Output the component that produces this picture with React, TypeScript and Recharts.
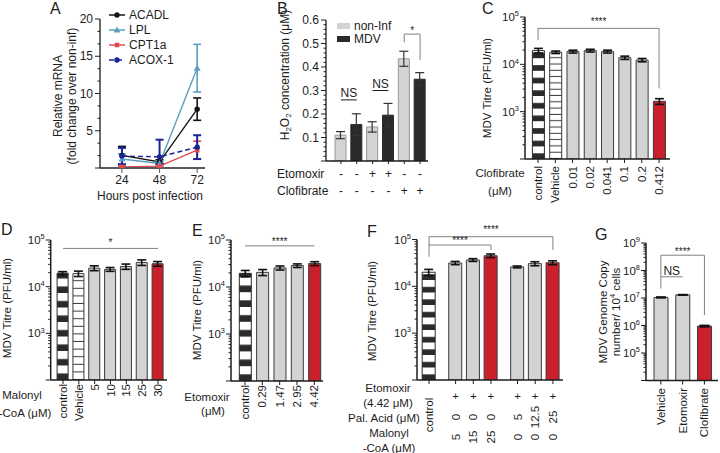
import React from 'react';
import {
  Bar,
  BarChart,
  Cell,
  ErrorBar,
  Legend,
  Line,
  LineChart,
  ReferenceLine,
  XAxis,
  YAxis,
} from 'recharts';

const W = 720;
const H = 453;
const Y_W = 40;
const X_H = 30;
const FONT = '"Liberation Sans", Arial, Helvetica, sans-serif';
const INK = '#1d1d1d';
const AXIS = '#1d1d1d';
const GRAY = '#d3d3d3';
const DARK = '#2a2a2a';
const RED = '#c9202b';
const EDGE = '#3b3b3b';
const BRACKET = '#808080';

// A: relative mRNA (fold change over non-inf)
const hours = [24, 48, 72];
const acadl = [1.7, 0.8, 7.9];
const acadlErr = [1.2, 0.3, 1.5];
const lpl = [1.2, 0.6, 13.4];
const lplErr = [0.7, 0.3, 3.2];
const cpt1a = [0.15, 0.25, 2.4];
const cpt1aErr = [0.1, 0.15, 1.2];
const acox1 = [1.6, 1.5, 2.8];
const acox1ErrLow = [1.1, 0.9, 1.6];
const acox1ErrHigh = [1.1, 2.3, 1.6];
const aTickLabels = [5, 10, 15, 20];

// B: H2O2 concentration
const bGroupNames = ['non-Inf', 'MDV'];
const bGroup = [0, 1, 0, 1, 0, 1];
const bConc = [0.11, 0.155, 0.145, 0.195, 0.435, 0.348];
const bErr = [0.015, 0.046, 0.022, 0.05, 0.032, 0.028];
const bEtomoxir = ['-', '-', '+', '+', '-', '-'];
const bClofibrate = ['-', '-', '-', '-', '+', '+'];
const bTickLabels = [0.1, 0.2, 0.3, 0.4, 0.5, 0.6];

// C: clofibrate titres
const cLabels = ['control', 'Vehicle', '0.01', '0.02', '0.041', '0.1', '0.2', '0.412'];
const cKind = ['control', 'vehicle', 'drug', 'drug', 'drug', 'drug', 'drug', 'hit'];
const cTitre = [19500, 18000, 18600, 19500, 18600, 13800, 12300, 1650];
const cErr = [2200, 1100, 1300, 1300, 1300, 1100, 1000, 230];

// D: malonyl-CoA titres
const dLabels = ['control', 'Vehicle', '5', '10', '15', '25', '30'];
const dKind = ['control', 'vehicle', 'drug', 'drug', 'drug', 'drug', 'hit'];
const dTitre = [19500, 19000, 25000, 23500, 27000, 33000, 31000];
const dErr = [1500, 2500, 3000, 2200, 3500, 4500, 3500];

// E: etomoxir titres
const eLabels = ['control', '0.29', '1.47', '2.95', '4.42'];
const eKind = ['control', 'drug', 'drug', 'drug', 'hit'];
const eTitre = [19500, 20500, 25500, 28500, 31500];
const eErr = [3000, 3000, 2500, 2500, 3000];

// F: etomoxir + palmitic acid / malonyl-CoA
const fGroup = [0, 1, 1, 1, 2, 2, 2];
const fKind = ['control', 'drug', 'drug', 'hit', 'drug', 'drug', 'hit'];
const fEtomoxir = ['', '+', '+', '+', '+', '+', '+'];
const fPalAcid = ['', '0', '0', '0', '5', '12.5', '25'];
const fMalonyl = ['', '5', '15', '25', '0', '0', '0'];
const fTitre = [20000, 31500, 36500, 45000, 26000, 30500, 32000];
const fErr = [3000, 2500, 2500, 4000, 1200, 3000, 3000];

// G: genome copies
const gLabels = ['Vehicle', 'Etomoxir', 'Clofibrate'];
const gKind = ['drug', 'drug', 'hit'];
const gCopies = [1.05e7, 1.3e7, 9.5e5];
const gErr = [4e5, 3e5, 6e4];

const LAYER: React.CSSProperties = { position: 'absolute', left: 0, top: 0 };

const frame = (x0: number, x1: number, y0: number, y1: number) => ({
  top: y0,
  right: W - x1,
  bottom: H - y1 - X_H,
  left: x0 - Y_W,
});

type Row = { key: string; kind: string; value: number; err: number };

const rowsOf = (labels: string[], kinds: string[], values: number[], errs: number[]): Row[] =>
  labels.map((label, i) => ({ key: label, kind: kinds[i], value: values[i], err: errs[i] }));

function logTicks(lo: number, hi: number) {
  const out: number[] = [];
  for (let e = Math.floor(Math.log10(lo)); e < Math.round(Math.log10(hi)); e++) {
    for (let m = 1; m < 10; m++) {
      const v = m * 10 ** e;
      if (v >= lo && v < hi) out.push(v);
    }
  }
  out.push(hi);
  return out;
}

const fillOf = (kind: string, id: string) => {
  if (kind === 'control') return `url(#stripe-${id})`;
  if (kind === 'vehicle') return `url(#lines-${id})`;
  if (kind === 'hit') return RED;
  return GRAY;
};

const starLabel = (value: string, offset: number, fontSize = 10) => ({
  value,
  position: 'top' as const,
  offset,
  fontSize,
  fill: INK,
  stroke: 'none',
});

function LogTick(props: any) {
  const { x, y, payload, min, fontSize = 11.5 } = props;
  const v = payload.value as number;
  const e = Math.round(Math.log10(v));
  const major = Math.abs(Math.log10(v) - e) < 1e-6;
  return (
    <g>
      <line x1={x} x2={x - (major ? 5 : 2.5)} y1={y} y2={y} stroke={AXIS} strokeWidth={1} />
      {major && v > min && (
        <text x={x - 6} y={y} dy="0.35em" textAnchor="end" fontSize={fontSize} fill={INK}>
          10
          <tspan dy={-fontSize * 0.42} fontSize={fontSize * 0.65}>
            {e}
          </tspan>
        </text>
      )}
    </g>
  );
}

function LinTick(props: any) {
  const { x, y, payload, labels, step, digits = 0, fontSize = 12 } = props;
  const v = payload.value as number;
  const major = Math.abs(v / step - Math.round(v / step)) < 1e-6;
  const shown = labels.find((l: number) => Math.abs(l - v) < 1e-6);
  return (
    <g>
      <line x1={x} x2={x - (major ? 5 : 2.5)} y1={y} y2={y} stroke={AXIS} strokeWidth={1} />
      {shown !== undefined && (
        <text x={x - 7} y={y} dy="0.35em" textAnchor="end" fontSize={fontSize} fill={INK}>
          {shown.toFixed(digits)}
        </text>
      )}
    </g>
  );
}

function RotTick(props: any) {
  const { x, y, payload, fontSize = 11.5 } = props;
  return (
    <text
      x={x}
      y={y}
      transform={`rotate(-90 ${x} ${y})`}
      textAnchor="end"
      dy="0.35em"
      fontSize={fontSize}
      fill={INK}
    >
      {payload.value}
    </text>
  );
}

function bracket(
  id: string,
  a: string | number,
  b: string | number,
  top: number,
  aLow: number,
  bLow: number,
  text: string,
  offset: number,
  color = BRACKET,
) {
  const common = { stroke: color, strokeWidth: 1, ifOverflow: 'visible' as const };
  return [
    <ReferenceLine key={`${id}-l`} segment={[{ x: a, y: aLow }, { x: a, y: top }]} {...common} />,
    <ReferenceLine
      key={`${id}-t`}
      segment={[{ x: a, y: top }, { x: b, y: top }]}
      {...common}
      label={starLabel(text, offset)}
    />,
    <ReferenceLine key={`${id}-r`} segment={[{ x: b, y: top }, { x: b, y: bLow }]} {...common} />,
  ];
}

function Marker({ cx, cy, shape, color }: { cx: number; cy: number; shape: string; color: string }) {
  if (shape === 'triangle') {
    return <path d={`M${cx},${cy - 3.5}L${cx + 3.5},${cy + 2.5}L${cx - 3.5},${cy + 2.5}Z`} fill={color} />;
  }
  if (shape === 'square') return <rect x={cx - 2.3} y={cy - 2.3} width={4.6} height={4.6} fill={color} />;
  return <circle cx={cx} cy={cy} r={2.7} fill={color} />;
}

const aSeries = [
  { key: 'acadl', name: 'ACADL', color: '#141414', marker: 'circle', dash: undefined as string | undefined, bar: 1.6 },
  { key: 'lpl', name: 'LPL', color: '#5d9fc0', marker: 'triangle', dash: undefined, bar: 1.6 },
  { key: 'cpt1a', name: 'CPT1a', color: '#e24a4f', marker: 'square', dash: undefined, bar: 1.6 },
  { key: 'acox1', name: 'ACOX-1', color: '#1b2496', marker: 'circle', dash: '5 3', bar: 2 },
];

function LegendA() {
  return (
    <div style={{ fontSize: 12, color: INK, fontFamily: FONT }}>
      {aSeries.map((s) => (
        <div key={s.key} style={{ display: 'flex', alignItems: 'center', height: 15 }}>
          <svg width={18} height={10} style={{ marginRight: 3 }}>
            <line x1={1} x2={17} y1={5} y2={5} stroke={s.color} strokeWidth={1.5} strokeDasharray={s.dash} />
            <Marker cx={9} cy={5} shape={s.marker} color={s.color} />
          </svg>
          <span>{s.name}</span>
        </div>
      ))}
    </div>
  );
}

function PanelA() {
  const rows = hours.map((h, i) => ({
    h,
    acadl: acadl[i],
    acadlErr: acadlErr[i],
    lpl: lpl[i],
    lplErr: lplErr[i],
    cpt1a: cpt1a[i],
    cpt1aErr: cpt1aErr[i],
    acox1: acox1[i],
    acox1Err: [acox1ErrLow[i], acox1ErrHigh[i]],
  }));
  const ticks = Array.from({ length: 13 }, (_, i) => (i * 5) / 3);
  return (
    <div style={LAYER}>
      <LineChart width={W} height={H} data={rows} margin={frame(100, 205, 19, 168)}>
        <XAxis
          dataKey="h"
          type="number"
          domain={[10, 77]}
          ticks={hours}
          allowDataOverflow
          height={X_H}
          axisLine={{ stroke: '#5a5a5a', strokeWidth: 2 }}
          tickLine={{ stroke: '#5a5a5a' }}
          tickSize={5}
          tickMargin={2}
          tick={{ fontSize: 12, fill: INK }}
        />
        <YAxis
          domain={[0, 20]}
          ticks={ticks}
          interval={0}
          allowDataOverflow
          width={Y_W}
          axisLine={{ stroke: AXIS, strokeWidth: 1.3 }}
          tickLine={false}
          tickSize={0}
          tickMargin={0}
          tick={<LinTick labels={aTickLabels} step={5} />}
        />
        <Legend
          layout="vertical"
          align="center"
          verticalAlign="middle"
          wrapperStyle={{ left: 108, top: 7, width: 90, height: 60 }}
          content={() => <LegendA />}
        />
        {aSeries.map((s) => (
          <Line
            key={s.key}
            dataKey={s.key}
            stroke={s.color}
            strokeWidth={1.4}
            strokeDasharray={s.dash}
            isAnimationActive={false}
            dot={(p: any) => <Marker key={`${s.key}-${p.index}`} cx={p.cx} cy={p.cy} shape={s.marker} color={s.color} />}
          >
            <ErrorBar dataKey={`${s.key}Err`} width={4} stroke={s.color} strokeWidth={s.bar} />
          </Line>
        ))}
      </LineChart>
    </div>
  );
}

function LegendB() {
  return (
    <div style={{ fontSize: 12, color: INK, fontFamily: FONT }}>
      {bGroupNames.map((name, i) => (
        <div key={name} style={{ display: 'flex', alignItems: 'center', height: 13 }}>
          <span
            style={{ width: 13, height: 6, background: i === 0 ? GRAY : DARK, marginRight: 4, display: 'inline-block' }}
          />
          <span>{name}</span>
        </div>
      ))}
    </div>
  );
}

function SignTick(props: any) {
  const { x, y, index } = props;
  return (
    <g fontSize={12} fill={INK}>
      <text x={x} y={y + 10} textAnchor="middle" dy="0.35em">
        {bEtomoxir[index]}
      </text>
      <text x={x} y={y + 27} textAnchor="middle" dy="0.35em">
        {bClofibrate[index]}
      </text>
    </g>
  );
}

function PanelB() {
  const rows = bConc.map((v, i) => ({ key: `b${i}`, value: v, err: bErr[i], group: bGroup[i] }));
  const ticks = Array.from({ length: 31 }, (_, i) => i * 0.02);
  return (
    <div style={LAYER}>
      <BarChart width={W} height={H} data={rows} margin={frame(326, 428, 20, 161)}>
        <XAxis
          dataKey="key"
          height={X_H}
          padding={{ left: 7, right: 0 }}
          interval={0}
          axisLine={{ stroke: AXIS, strokeWidth: 1.3 }}
          tickLine={{ stroke: AXIS }}
          tickSize={3}
          tickMargin={0}
          tick={<SignTick />}
        />
        <YAxis
          domain={[0, 0.6]}
          ticks={ticks}
          interval={0}
          allowDataOverflow
          width={Y_W}
          axisLine={{ stroke: AXIS, strokeWidth: 1.3 }}
          tickLine={false}
          tickSize={0}
          tickMargin={0}
          tick={<LinTick labels={bTickLabels} step={0.1} digits={1} />}
        />
        <Legend
          layout="vertical"
          align="center"
          verticalAlign="middle"
          wrapperStyle={{ left: 337, top: 19.5, width: 70, height: 26 }}
          content={() => <LegendB />}
        />
        <Bar dataKey="value" barSize={11} isAnimationActive={false} strokeWidth={1}>
          {rows.map((r) => (
            <Cell key={r.key} fill={r.group === 0 ? GRAY : DARK} stroke={r.group === 0 ? '#9a9a9a' : DARK} />
          ))}
          <ErrorBar dataKey="err" width={4.5} stroke="#333" strokeWidth={1.2} />
        </Bar>
        <ReferenceLine
          segment={[{ x: 'b0', y: 0.26 }, { x: 'b1', y: 0.26 }]}
          stroke={INK}
          ifOverflow="visible"
          label={starLabel('NS', 3, 12)}
        />
        <ReferenceLine
          segment={[{ x: 'b2', y: 0.3 }, { x: 'b3', y: 0.3 }]}
          stroke={INK}
          ifOverflow="visible"
          label={starLabel('NS', 3, 12)}
        />
        {bracket('b-star', 'b4', 'b5', 0.54, 0.505, 0.43, '*', 0)}
      </BarChart>
    </div>
  );
}

interface LogPanelProps {
  id: string;
  rows: Row[];
  x0: number;
  x1: number;
  y0: number;
  y1: number;
  padL: number;
  padR: number;
  domain: [number, number];
  barSize: number;
  stripe: number;
  lines: number;
  capW: number;
  tickMargin: number;
  tick: React.ReactElement;
  children?: React.ReactNode;
}

function LogPanel(p: LogPanelProps) {
  const ticks = logTicks(p.domain[0], p.domain[1]);
  return (
    <div style={LAYER}>
      <BarChart width={W} height={H} data={p.rows} margin={frame(p.x0, p.x1, p.y0, p.y1)}>
        <defs>
          <pattern id={`stripe-${p.id}`} patternUnits="userSpaceOnUse" width={8} height={p.stripe} y={p.y1}>
            <rect width={8} height={p.stripe} fill="#fff" />
            <rect y={p.stripe * 0.55} width={8} height={p.stripe * 0.45} fill={DARK} />
          </pattern>
          <pattern id={`lines-${p.id}`} patternUnits="userSpaceOnUse" width={8} height={p.lines} y={p.y1}>
            <rect width={8} height={p.lines} fill="#fff" />
            <rect y={p.lines - 1} width={8} height={1} fill="#3a3a3a" />
          </pattern>
        </defs>
        <XAxis
          dataKey="key"
          height={X_H}
          padding={{ left: p.padL, right: p.padR }}
          interval={0}
          axisLine={{ stroke: AXIS, strokeWidth: 1.5 }}
          tickLine={{ stroke: AXIS }}
          tickSize={4}
          tickMargin={p.tickMargin}
          tick={p.tick}
        />
        <YAxis
          scale="log"
          domain={p.domain}
          allowDataOverflow
          ticks={ticks}
          interval={0}
          width={Y_W}
          axisLine={{ stroke: AXIS, strokeWidth: 1.5 }}
          tickLine={false}
          tickSize={0}
          tickMargin={0}
          tick={<LogTick min={p.domain[0]} />}
        />
        <Bar dataKey="value" barSize={p.barSize} isAnimationActive={false} strokeWidth={1}>
          {p.rows.map((r) => (
            <Cell key={r.key} fill={fillOf(r.kind, p.id)} stroke={r.kind === 'control' ? DARK : EDGE} />
          ))}
          <ErrorBar dataKey="err" width={p.capW} stroke="#111" strokeWidth={1.6} />
        </Bar>
        {p.children}
      </BarChart>
    </div>
  );
}

function PanelF() {
  const rows = fTitre.map((v, i) => ({
    pos: i + fGroup[i] * 0.5,
    kind: fKind[i],
    value: v,
    err: fErr[i],
    eto: fEtomoxir[i],
    pal: fPalAcid[i],
    mal: fMalonyl[i],
  }));
  const ticks = logTicks(100, 100000);
  const FTick = (props: any) => {
    const { x, y, payload } = props;
    const r = rows.find((d) => Math.abs(d.pos - payload.value) < 1e-6);
    if (!r) return <g />;
    const rot = (cy: number, s: string) => (
      <text
        x={x}
        y={cy}
        transform={`rotate(-90 ${x} ${cy})`}
        textAnchor="middle"
        dy="0.35em"
        fontSize={11.5}
        fill={INK}
      >
        {s}
      </text>
    );
    return (
      <g>
        <line x1={x} x2={x} y1={y} y2={y + 4} stroke={AXIS} />
        {r.kind === 'control' ? (
          rot(y + 35, 'control')
        ) : (
          <>
            <text x={x} y={y + 16} dy="0.35em" textAnchor="middle" fontSize={11.5} fill={INK}>
              {r.eto}
            </text>
            {rot(y + 37, r.pal)}
            {rot(y + 57, r.mal)}
          </>
        )}
      </g>
    );
  };
  return (
    <div style={LAYER}>
      <BarChart width={W} height={H} data={rows} margin={frame(417, 563, 239.5, 380)}>
        <defs>
          <pattern id="stripe-f" patternUnits="userSpaceOnUse" width={8} height={12.5} y={380}>
            <rect width={8} height={12.5} fill="#fff" />
            <rect y={12.5 * 0.55} width={8} height={12.5 * 0.45} fill={DARK} />
          </pattern>
        </defs>
        <XAxis
          dataKey="pos"
          type="number"
          domain={[-0.68, 7.57]}
          ticks={rows.map((r) => r.pos)}
          allowDataOverflow
          interval={0}
          height={X_H}
          axisLine={{ stroke: AXIS, strokeWidth: 1.5 }}
          tickLine={false}
          tickSize={0}
          tickMargin={0}
          tick={<FTick />}
        />
        <YAxis
          scale="log"
          domain={[100, 100000]}
          allowDataOverflow
          ticks={ticks}
          interval={0}
          width={Y_W}
          axisLine={{ stroke: AXIS, strokeWidth: 1.5 }}
          tickLine={false}
          tickSize={0}
          tickMargin={0}
          tick={<LogTick min={100} />}
        />
        <Bar dataKey="value" barSize={13} isAnimationActive={false} strokeWidth={1}>
          {rows.map((r) => (
            <Cell key={r.pos} fill={fillOf(r.kind, 'f')} stroke={r.kind === 'control' ? DARK : EDGE} />
          ))}
          <ErrorBar dataKey="err" width={4.5} stroke="#111" strokeWidth={1.6} />
        </Bar>
        {bracket('f-in', 0, 3.5, 76300, 43000, 59700, '****', 1)}
        {bracket('f-out', 0, 7, 114800, 76300, 59700, '****', 4)}
      </BarChart>
    </div>
  );
}

const VText = ({ x, y, size = 11.5, children }: { x: number; y: number; size?: number; children: React.ReactNode }) => (
  <text
    x={x}
    y={y}
    transform={`rotate(-90 ${x} ${y})`}
    textAnchor="middle"
    dominantBaseline="central"
    fontSize={size}
    fill={INK}
  >
    {children}
  </text>
);

const Label = ({ x, y, size = 11.5, anchor = 'middle', children }: any) => (
  <text x={x} y={y} dy="0.35em" textAnchor={anchor} fontSize={size} fill={INK}>
    {children}
  </text>
);

function Annotations() {
  return (
    <svg width={W} height={H} style={{ ...LAYER, pointerEvents: 'none' }} fontFamily={FONT}>
      <g fontSize={16} fill={INK}>
        <text x={50} y={14}>A</text>
        <text x={277} y={14}>B</text>
        <text x={482} y={13.5}>C</text>
        <text x={1} y={235}>D</text>
        <text x={192} y={235.5}>E</text>
        <text x={367} y={237}>F</text>
        <text x={595} y={240}>G</text>
      </g>

      <VText x={58} y={96} size={12}>Relative mRNA</VText>
      <VText x={72} y={96} size={12}>(fold change over non-inf)</VText>
      <Label x={150} y={196} size={12}>Hours post infection</Label>

      <VText x={285} y={75} size={12}>
        H<tspan dy={3} fontSize={8}>2</tspan>
        <tspan dy={-3}>O</tspan>
        <tspan dy={3} fontSize={8}>2</tspan>
        <tspan dy={-3}> concentration (μM)</tspan>
      </VText>
      <Label x={277} y={174} size={12} anchor="start">Etomoxir</Label>
      <Label x={277} y={191} size={12} anchor="start">Clofibrate</Label>

      <VText x={487} y={88}>MDV Titre (PFU/ml)</VText>
      <Label x={500} y={173}>Clofibrate</Label>
      <Label x={500} y={191}>(μM)</Label>

      <VText x={7} y={308}>MDV Titre (PFU/ml)</VText>
      <Label x={22} y={395}>Malonyl</Label>
      <Label x={25} y={413}>-CoA (μM)</Label>

      <VText x={197} y={310}>MDV Titre (PFU/ml)</VText>
      <Label x={207} y={397}>Etomoxir</Label>
      <Label x={213} y={411}>(μM)</Label>

      <VText x={372} y={311}>MDV Titre (PFU/ml)</VText>
      <Label x={388} y={388}>Etomoxir</Label>
      <Label x={388} y={403}>(4.42 μM)</Label>
      <Label x={384} y={418}>Pal. Acid (μM)</Label>
      <Label x={389} y={433}>Malonyl</Label>
      <Label x={389} y={448}>-CoA (μM)</Label>

      <VText x={603} y={312}>MDV Genome Copy</VText>
      <VText x={616} y={312}>
        number/ 10<tspan dy={-4} fontSize={7.5}>4</tspan>
        <tspan dy={4}> cells</tspan>
      </VText>
    </svg>
  );
}

export default function App() {
  const cRows = rowsOf(cLabels, cKind, cTitre, cErr);
  const dRows = rowsOf(dLabels, dKind, dTitre, dErr);
  const eRows = rowsOf(eLabels, eKind, eTitre, eErr);
  const gRows = rowsOf(gLabels, gKind, gCopies, gErr);
  return (
    <div
      style={{
        position: 'absolute',
        left: 0,
        top: 0,
        width: W,
        height: H,
        background: '#fff',
        fontFamily: FONT,
        overflow: 'hidden',
      }}
    >
      <PanelA />
      <PanelB />
      <LogPanel
        id="c"
        rows={cRows}
        x0={525}
        x1={670}
        y0={17}
        y1={159}
        padL={4.4}
        padR={2.3}
        domain={[100, 100000]}
        barSize={12}
        stripe={12.6}
        lines={6.3}
        capW={4.5}
        tickMargin={3}
        tick={<RotTick />}
      >
        {bracket('c', 'control', '0.412', 57500, 32700, 3100, '****', 3)}
      </LogPanel>
      <LogPanel
        id="d"
        rows={dRows}
        x0={50.7}
        x1={167}
        y0={240}
        y1={380}
        padL={4.4}
        padR={1.1}
        domain={[100, 100000]}
        barSize={11}
        stripe={14.5}
        lines={7.6}
        capW={4.5}
        tickMargin={0}
        tick={<RotTick />}
      >
        <ReferenceLine
          segment={[{ x: 'control', y: 66000 }, { x: '30', y: 66000 }]}
          stroke={BRACKET}
          ifOverflow="visible"
          label={starLabel('*', 2)}
        />
      </LogPanel>
      <LogPanel
        id="e"
        rows={eRows}
        x0={231}
        x1={323}
        y0={240}
        y1={381}
        padL={5.3}
        padR={0}
        domain={[100, 100000]}
        barSize={12}
        stripe={14.8}
        lines={7}
        capW={4.5}
        tickMargin={0}
        tick={<RotTick />}
      >
        <ReferenceLine
          segment={[{ x: 'control', y: 75000 }, { x: '4.42', y: 75000 }]}
          stroke={BRACKET}
          ifOverflow="visible"
          label={starLabel('****', 1)}
        />
      </LogPanel>
      <PanelF />
      <LogPanel
        id="g"
        rows={gRows}
        x0={646}
        x1={718}
        y0={243}
        y1={380.5}
        padL={4}
        padR={2.7}
        domain={[10000, 1e9]}
        barSize={14}
        stripe={12}
        lines={6}
        capW={5}
        tickMargin={3.5}
        tick={<RotTick />}
      >
        <ReferenceLine
          segment={[{ x: 'Vehicle', y: 5.9e7 }, { x: 'Etomoxir', y: 5.9e7 }]}
          stroke={BRACKET}
          ifOverflow="visible"
          label={starLabel('NS', 2, 12)}
        />
        {bracket('g', 'Vehicle', 'Clofibrate', 3.6e8, 2.2e7, 2.4e6, '****', 0)}
      </LogPanel>
      <Annotations />
    </div>
  );
}
